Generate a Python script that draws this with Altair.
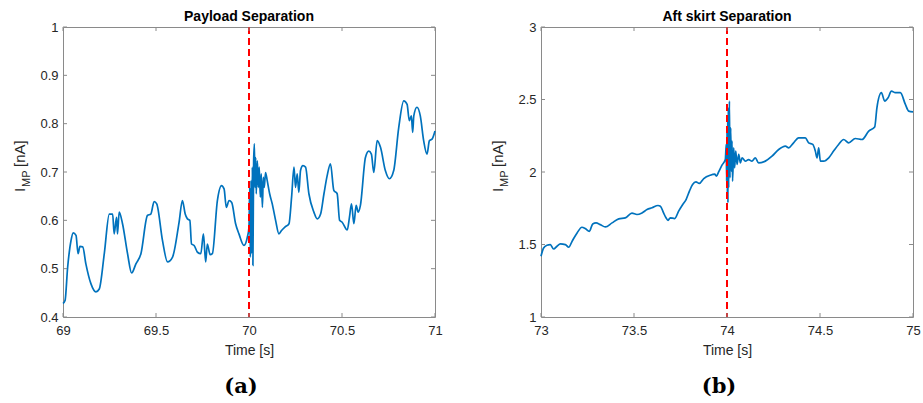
import altair as alt
import pandas as pd

# ---------------- data: panel (a) Payload Separation ----------------
t_a = [69.000, 69.011, 69.025, 69.043, 69.055, 69.070, 69.081, 69.091, 69.106, 69.123,
       69.150, 69.177, 69.195, 69.222, 69.249, 69.267, 69.275, 69.288, 69.293, 69.302,
       69.320, 69.347, 69.369, 69.392, 69.419, 69.454, 69.472, 69.490, 69.504, 69.535,
       69.562, 69.589, 69.624, 69.642, 69.657, 69.669, 69.682, 69.691, 69.705, 69.723,
       69.741, 69.755, 69.767, 69.776, 69.791, 69.803, 69.830, 69.852, 69.866, 69.878,
       69.893, 69.907, 69.928, 69.946, 69.973, 69.991, 70.000, 70.004, 70.007, 70.011,
       70.014, 70.018, 70.021, 70.025, 70.029, 70.032, 70.036, 70.039, 70.045, 70.050,
       70.055, 70.061, 70.066, 70.072, 70.077, 70.082, 70.089, 70.098, 70.111, 70.125,
       70.143, 70.161, 70.175, 70.193, 70.215, 70.229, 70.242, 70.250, 70.259, 70.268,
       70.277, 70.290, 70.304, 70.322, 70.349, 70.367, 70.385, 70.403, 70.420, 70.438,
       70.456, 70.474, 70.487, 70.501, 70.528, 70.540, 70.551, 70.564, 70.576, 70.587,
       70.599, 70.626, 70.644, 70.658, 70.671, 70.689, 70.707, 70.733, 70.755, 70.778,
       70.805, 70.832, 70.850, 70.862, 70.873, 70.880, 70.886, 70.903, 70.921, 70.939,
       70.957, 70.970, 70.984, 71.000]
v_a = [0.428, 0.434, 0.503, 0.558, 0.574, 0.569, 0.531, 0.546, 0.545, 0.510,
       0.469, 0.452, 0.458, 0.531, 0.613, 0.613, 0.572, 0.606, 0.572, 0.617,
       0.593, 0.531, 0.491, 0.510, 0.531, 0.610, 0.613, 0.639, 0.634, 0.558,
       0.514, 0.524, 0.596, 0.641, 0.613, 0.603, 0.600, 0.551, 0.548, 0.534,
       0.531, 0.572, 0.514, 0.551, 0.529, 0.531, 0.641, 0.672, 0.665, 0.627,
       0.641, 0.637, 0.593, 0.572, 0.548, 0.565, 0.586, 0.668, 0.524, 0.682,
       0.531, 0.710, 0.507, 0.723, 0.758, 0.668, 0.730, 0.655, 0.723, 0.668,
       0.710, 0.648, 0.696, 0.627, 0.689, 0.668, 0.699, 0.682, 0.655, 0.634,
       0.600, 0.572, 0.579, 0.586, 0.593, 0.648, 0.710, 0.668, 0.696, 0.658,
       0.703, 0.713, 0.710, 0.655, 0.617, 0.603, 0.613, 0.655, 0.692, 0.717,
       0.662, 0.655, 0.600, 0.596, 0.580, 0.606, 0.634, 0.593, 0.631, 0.617,
       0.631, 0.730, 0.743, 0.737, 0.699, 0.765, 0.751, 0.703, 0.686, 0.703,
       0.792, 0.847, 0.840, 0.806, 0.816, 0.782, 0.816, 0.834, 0.816, 0.765,
       0.737, 0.765, 0.768, 0.785]

# ---------------- data: panel (b) Aft skirt Separation ----------------
t_b = [73.000, 73.014, 73.032, 73.050, 73.068, 73.086, 73.104, 73.131, 73.149, 73.167,
       73.194, 73.220, 73.238, 73.260, 73.278, 73.296, 73.319, 73.346, 73.382, 73.418,
       73.453, 73.489, 73.516, 73.543, 73.570, 73.597, 73.629, 73.642, 73.659, 73.672,
       73.683, 73.695, 73.719, 73.740, 73.762, 73.780, 73.798, 73.815, 73.833, 73.851,
       73.875, 73.910, 73.934, 73.943, 73.955, 73.973, 73.991, 73.996, 73.998, 74.000,
       74.002, 74.004, 74.005, 74.007, 74.009, 74.013, 74.016, 74.020, 74.023, 74.027,
       74.030, 74.036, 74.041, 74.047, 74.054, 74.063, 74.072, 74.081, 74.099, 74.116,
       74.134, 74.152, 74.170, 74.206, 74.242, 74.278, 74.314, 74.332, 74.358, 74.385,
       74.421, 74.439, 74.461, 74.475, 74.484, 74.493, 74.502, 74.520, 74.547, 74.573,
       74.600, 74.627, 74.654, 74.690, 74.726, 74.762, 74.794, 74.806, 74.830, 74.848,
       74.866, 74.884, 74.905, 74.932, 74.959, 74.977, 75.000]
v_b = [1.419, 1.476, 1.495, 1.499, 1.469, 1.488, 1.504, 1.499, 1.481, 1.522,
       1.580, 1.619, 1.610, 1.591, 1.642, 1.649, 1.637, 1.621, 1.649, 1.677,
       1.684, 1.716, 1.707, 1.718, 1.741, 1.753, 1.769, 1.764, 1.718, 1.684,
       1.667, 1.684, 1.679, 1.730, 1.776, 1.810, 1.868, 1.914, 1.932, 1.921,
       1.955, 1.978, 1.985, 1.971, 2.001, 2.047, 2.086, 2.190, 1.937, 2.282,
       1.845, 2.351, 1.787, 2.443, 1.891, 2.489, 1.960, 2.305, 2.006, 2.213,
       1.937, 2.167, 2.029, 2.144, 2.052, 2.121, 2.063, 2.098, 2.075, 2.086,
       2.075, 2.098, 2.063, 2.075, 2.109, 2.155, 2.178, 2.167, 2.201, 2.236,
       2.236, 2.201, 2.190, 2.144, 2.098, 2.167, 2.075, 2.075, 2.098, 2.144,
       2.190, 2.224, 2.201, 2.231, 2.224, 2.282, 2.310, 2.443, 2.547, 2.489,
       2.512, 2.558, 2.547, 2.547, 2.466, 2.420, 2.415]

x_ticks_a = [69, 69.5, 70, 70.5, 71]
y_ticks_a = [0.4, 0.5, 0.6, 0.7, 0.8, 0.9, 1.0]
x_ticks_b = [73, 73.5, 74, 74.5, 75]
y_ticks_b = [1, 1.5, 2, 2.5, 3]

titles = ["Payload Separation", "Aft skirt Separation"]
event_times = [70, 74]
panel_tags = ["(a)", "(b)"]

W, H = 372, 290
SANS = "Liberation Sans"
BLUE = "#0072BD"
BOX = "#8a8a8a"
TXT = "#262626"


def panel(t, v, xt, yt, title, ev, tag):
    df = pd.DataFrame({"t": t, "v": v})
    xenc = alt.X("t:Q",
                 scale=alt.Scale(domain=[xt[0], xt[-1]], nice=False, zero=False),
                 axis=alt.Axis(values=xt, title="Time [s]", format="~g", labelFlush=False,
                               ticks=False, domain=False, grid=False, labelPadding=7,
                               labelFontSize=13, titleFontSize=14, labelFont=SANS,
                               titleFont=SANS, titleFontWeight="normal",
                               labelColor=TXT, titleColor=TXT, titlePadding=6))
    yenc = alt.Y("v:Q",
                 scale=alt.Scale(domain=[yt[0], yt[-1]], nice=False, zero=False),
                 axis=alt.Axis(values=yt, title=None, format="~g", ticks=False,
                               domain=False, grid=False, labelPadding=5, labelFontSize=13,
                               labelFont=SANS, labelColor=TXT, labelFlush=False))
    xtdf = pd.DataFrame({"t": xt})
    ytdf = pd.DataFrame({"v": yt})

    line = alt.Chart(df).mark_line(color=BLUE, strokeWidth=1.7,
                                   interpolate="monotone").encode(x=xenc, y=yenc)
    ev_rule = alt.Chart(pd.DataFrame({"t": [ev]})).mark_rule(
        color="#FF0000", strokeWidth=2, strokeDash=[7, 4]).encode(x=xenc)
    tb = alt.Chart(xtdf).mark_rule(color=BOX).encode(x=xenc, y=alt.value(H), y2=alt.value(H - 4))
    tt = alt.Chart(xtdf).mark_rule(color=BOX).encode(x=xenc, y=alt.value(0), y2=alt.value(4))
    tl = alt.Chart(ytdf).mark_rule(color=BOX).encode(y=yenc, x=alt.value(0), x2=alt.value(4))
    tr = alt.Chart(ytdf).mark_rule(color=BOX).encode(y=yenc, x=alt.value(W - 4), x2=alt.value(W))

    one = pd.DataFrame({"k": [0]})
    yt1 = alt.Chart(one).mark_text(text="I", angle=270, align="left", baseline="alphabetic",
                                   font=SANS, fontSize=15, color=TXT).encode(
        x=alt.value(-38), y=alt.value(165))
    yt2 = alt.Chart(one).mark_text(text="MP", angle=270, align="left", baseline="alphabetic",
                                   font=SANS, fontSize=11, color=TXT).encode(
        x=alt.value(-33), y=alt.value(160))
    yt3 = alt.Chart(one).mark_text(text="[nA]", angle=270, align="left", baseline="alphabetic",
                                   font=SANS, fontSize=15, color=TXT).encode(
        x=alt.value(-38), y=alt.value(140))
    tag_t = alt.Chart(one).mark_text(text=tag, align="center", baseline="middle",
                                     font="DejaVu Serif", fontWeight="bold", fontSize=21,
                                     color="black").encode(
        x=alt.value(W / 2 - 8), y=alt.value(H + 70))

    return alt.layer(line, ev_rule, tb, tt, tl, tr, yt1, yt2, yt3, tag_t).properties(
        width=W, height=H,
        title=alt.TitleParams(title, font=SANS, fontSize=14, fontWeight="bold",
                              color="black", offset=-3, anchor="middle"))


pa = panel(t_a, v_a, x_ticks_a, y_ticks_a, titles[0], event_times[0], panel_tags[0])
pb = panel(t_b, v_b, x_ticks_b, y_ticks_b, titles[1], event_times[1], panel_tags[1])

chart = alt.hconcat(pa, pb, spacing=106, bounds="flush").properties(
    padding={"left": 12, "top": 9, "right": 0, "bottom": 0},
    background="white",
).configure_view(stroke=BOX, strokeWidth=1)

chart.save("out.html", embed_options={"renderer": "svg", "actions": False})
